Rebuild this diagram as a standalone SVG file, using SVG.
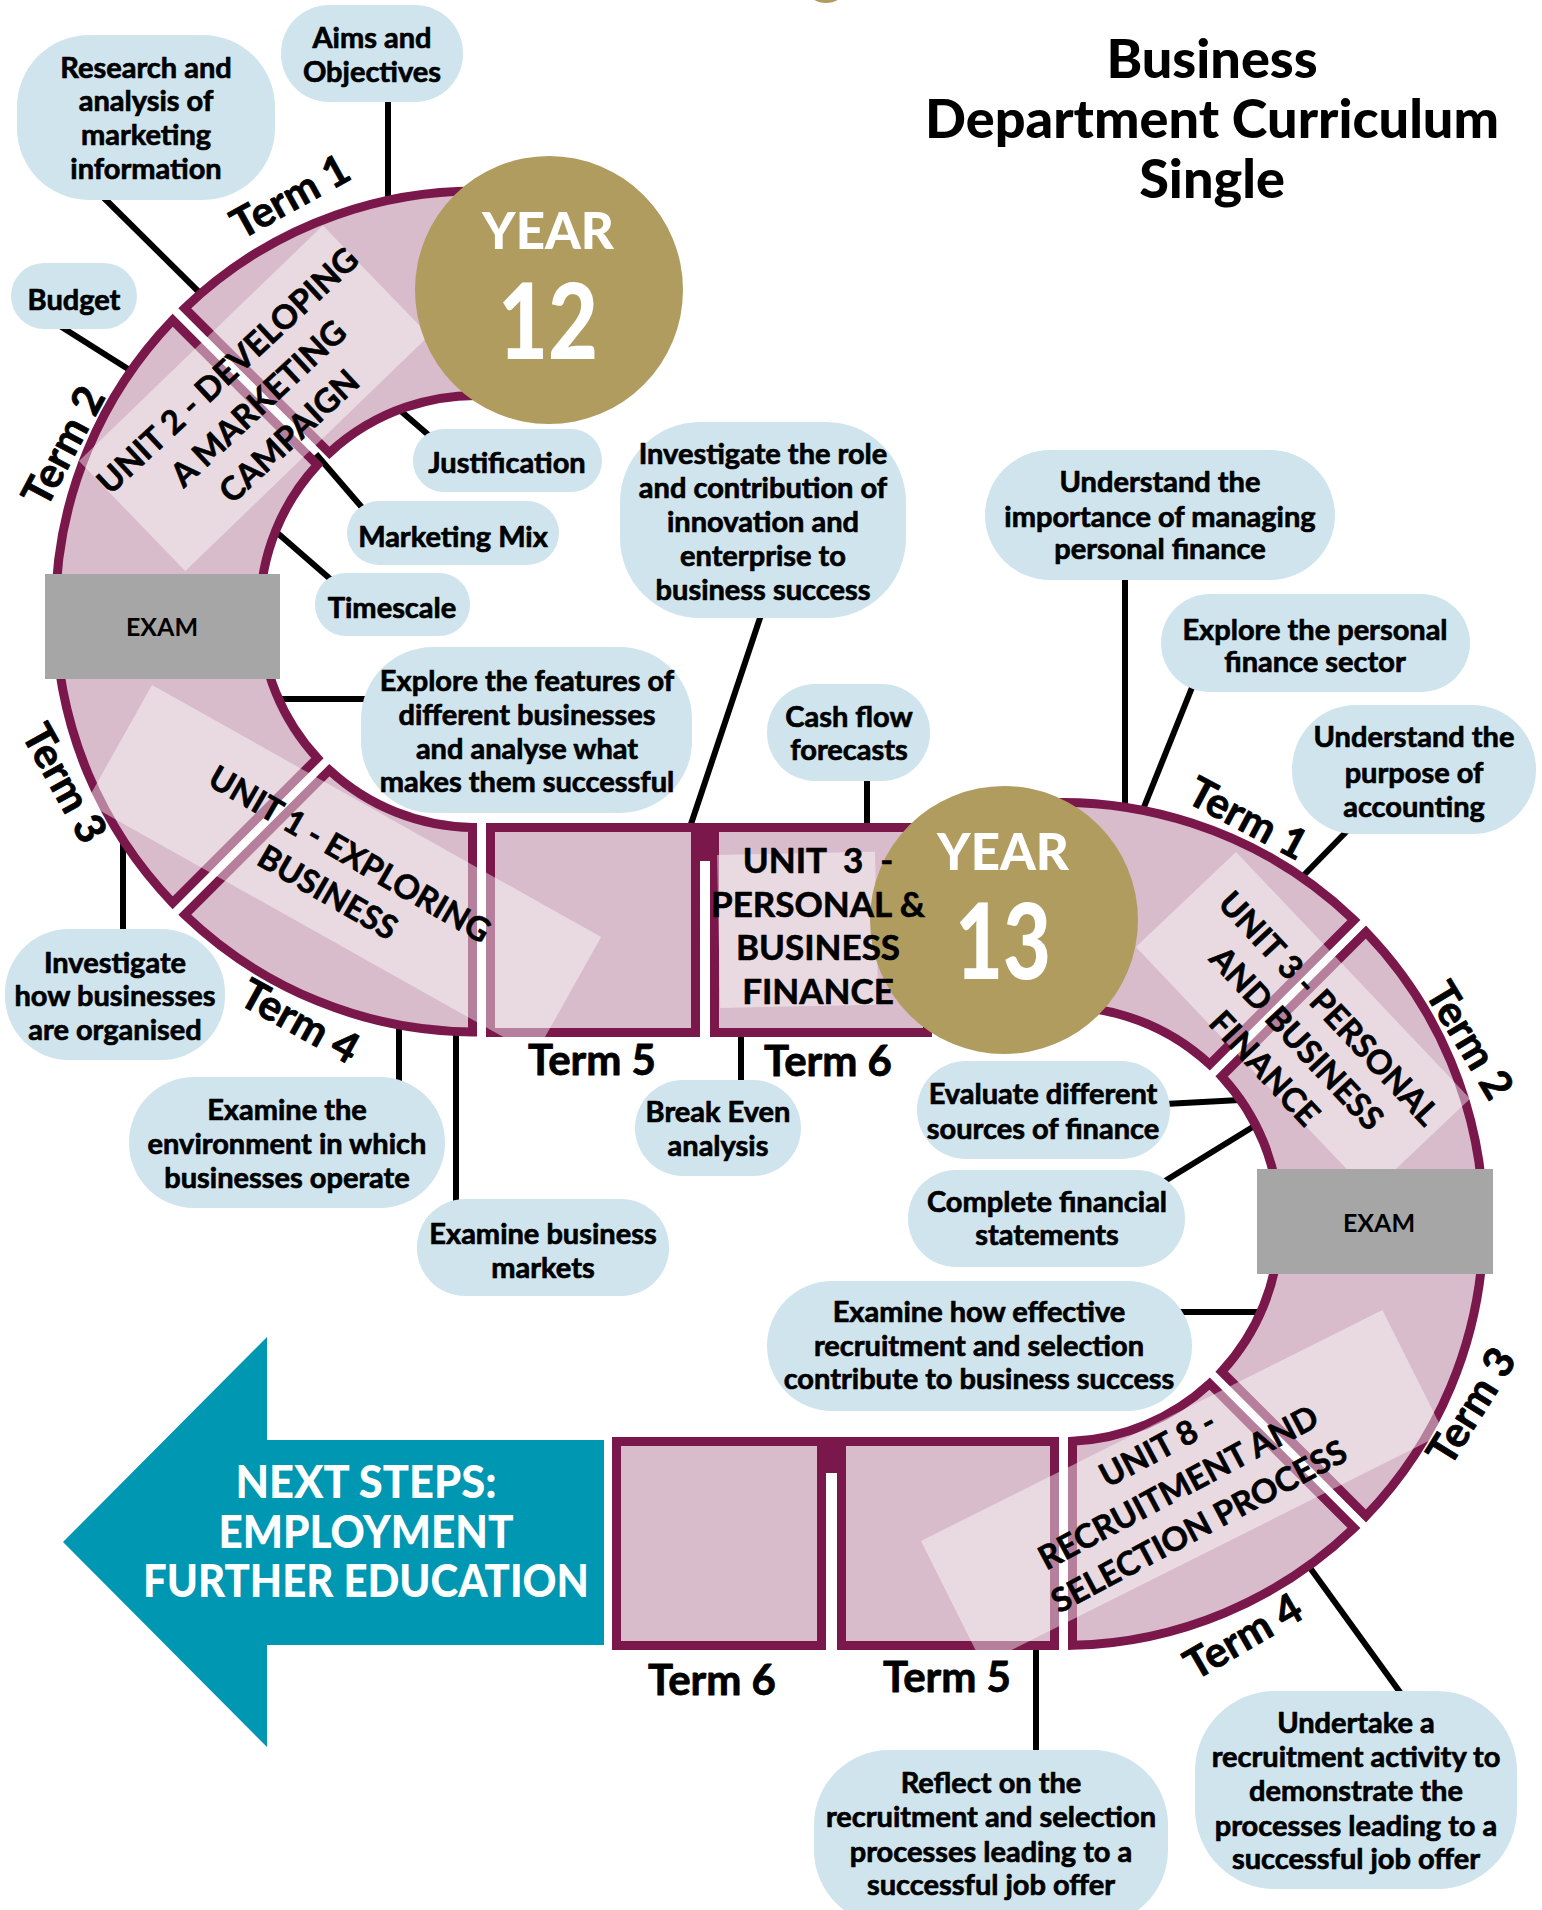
<svg xmlns="http://www.w3.org/2000/svg" width="1542" height="1910" viewBox="0 0 1542 1910">
<style>
.seg{fill:#d8bccb;stroke:#7a184b;stroke-width:9;stroke-linejoin:miter}
.joint{fill:#7a184b}
.ov{fill:#ffffff;fill-opacity:0.45}
.exam{fill:#a6a6a6}
.gold{fill:#b19c5f}
.bub{fill:#cfe4ec}
.con{stroke:#000;stroke-width:6;fill:none}
text{font-family:Lato,'Liberation Sans',sans-serif;font-weight:700;fill:#000;text-anchor:middle}
.bt{font-size:29px;stroke:#000;stroke-width:0.7px;stroke-linejoin:round}
.term{font-size:42px;stroke:#000;stroke-width:0.8px;stroke-linejoin:round}
.unit{font-size:33px;stroke:#000;stroke-width:0.6px;stroke-linejoin:round}
.examt{font-size:25px}
.title{font-size:54px;font-weight:900}
.yr{font-size:51px;font-weight:900;fill:#fff}
.num{font-size:104px;font-weight:900;fill:#fff}
.next{font-size:46px;font-weight:900;fill:#fff}
</style>
<rect width="1542" height="1910" fill="#ffffff"/>
<ellipse cx="826" cy="-8" rx="17" ry="11" class="gold"/>

<g id="title">
<text class="title" x="1212" y="78">Business</text>
<text class="title" x="1212" y="138">Department Curriculum</text>
<text class="title" x="1212" y="198">Single</text>
</g>

<g id="connectors">
<line class="con" x1="388" y1="100" x2="388" y2="200"/>
<line class="con" x1="100" y1="194" x2="206" y2="299"/>
<line class="con" x1="60" y1="326" x2="136" y2="374"/>
<line class="con" x1="395" y1="406" x2="432" y2="438"/>
<line class="con" x1="316" y1="454" x2="365" y2="511"/>
<line class="con" x1="274" y1="530" x2="336" y2="584"/>
<line class="con" x1="280" y1="699" x2="370" y2="699"/>
<line class="con" x1="123" y1="835" x2="123" y2="935"/>
<line class="con" x1="399" y1="1025" x2="399" y2="1085"/>
<line class="con" x1="456" y1="1030" x2="456" y2="1205"/>
<line class="con" x1="762" y1="612" x2="689" y2="830"/>
<line class="con" x1="867" y1="775" x2="867" y2="828"/>
<line class="con" x1="741" y1="1030" x2="741" y2="1085"/>
<line class="con" x1="1125" y1="575" x2="1125" y2="812"/>
<line class="con" x1="1193" y1="685" x2="1142" y2="812"/>
<line class="con" x1="1348" y1="830" x2="1303" y2="876"/>
<line class="con" x1="1165" y1="1104" x2="1240" y2="1100"/>
<line class="con" x1="1160" y1="1184" x2="1256" y2="1125"/>
<line class="con" x1="1180" y1="1312" x2="1262" y2="1312"/>
<line class="con" x1="1036" y1="1645" x2="1036" y2="1755"/>
<line class="con" x1="1308" y1="1565" x2="1402" y2="1695"/>
</g>

<g id="year12-track">
<path class="seg" d="M512.65,192.6 A420.5,420.5 0 0 0 184.74,308.22 L329.39,452.87 A216,216 0 0 1 494.83,396.3 Z"/>
<path class="seg" d="M172.72,320.24 A420.5,420.5 0 0 0 172.72,902.76 L317.37,758.11 A216,216 0 0 1 317.37,464.89 Z"/>
<path class="seg" d="M184.74,914.78 A420.5,420.5 0 0 0 472.5,1032 L472.5,827.5 A216,216 0 0 1 329.39,770.13 Z"/>
<rect class="seg" x="490.5" y="827.5" width="205" height="205"/>
<rect class="joint" x="699" y="823" width="12" height="38"/>
<rect class="seg" x="714.5" y="827.5" width="213" height="205"/>
</g>

<g id="year13-track">
<path class="seg" d="M1003.34,806.6 A421.5,421.5 0 0 1 1353.97,920.01 L1209.66,1064.32 A217.5,217.5 0 0 0 1031.73,1008.62 Z"/>
<path class="seg" d="M1365.99,932.03 A421.5,421.5 0 0 1 1365.99,1515.97 L1221.68,1371.66 A217.5,217.5 0 0 0 1221.68,1076.34 Z"/>
<path class="seg" d="M1353.97,1527.99 A421.5,421.5 0 0 1 1072.5,1645.37 L1072.5,1441.25 A217.5,217.5 0 0 0 1209.66,1383.68 Z"/>
<rect class="seg" x="841.5" y="1441.5" width="213" height="204"/>
<rect class="joint" x="825" y="1437" width="13" height="36"/>
<rect class="seg" x="616.5" y="1441.5" width="205" height="204"/>
</g>

<g id="overlays">
<rect class="ov" width="339" height="153" transform="translate(79,461) rotate(-44)"/>
<rect class="ov" width="515" height="135" transform="translate(152,685) rotate(29.3)"/>
<rect class="ov" x="717" y="855" width="158" height="153" transform="rotate(-1.2 717 855)"/>
<rect class="ov" width="340" height="138" transform="translate(1236,852) rotate(46.5)"/>
<rect class="ov" width="516" height="138" transform="translate(921,1541) rotate(-26.6)"/>
</g>

<g id="exam-y12">
<rect class="exam" x="45" y="574" width="235" height="105"/>
<text class="examt" x="162" y="636">EXAM</text>
</g>
<g id="exam-y13">
<rect class="exam" x="1257" y="1169" width="236" height="105"/>
<text class="examt" x="1379" y="1232">EXAM</text>
</g>

<g id="year12-badge">
<circle class="gold" cx="549" cy="290" r="134"/>
<text class="yr" x="548" y="249">YEAR</text>
<text class="num" x="548" y="359" textLength="100" lengthAdjust="spacingAndGlyphs">12</text>
</g>
<g id="year13-badge">
<circle class="gold" cx="1004" cy="920" r="134"/>
<text class="yr" x="1003" y="870">YEAR</text>
<text class="num" x="1003" y="979" textLength="96" lengthAdjust="spacingAndGlyphs">13</text>
</g>

<g id="unit2">
<g transform="translate(258,403) rotate(-43)">
<text class="unit"><tspan x="0" y="-33">UNIT 2 - DEVELOPING</tspan><tspan x="0" y="12">A MARKETING</tspan><tspan x="0" y="57">CAMPAIGN</tspan></text>
</g>
</g>
<g id="unit1">
<g transform="translate(339,873) rotate(30)">
<text class="unit"><tspan x="0" y="-10">UNIT 1 - EXPLORING</tspan><tspan x="0" y="34">BUSINESS</tspan></text>
</g>
</g>
<g id="unit3-y12">
<text class="unit" style="font-size:35px" xml:space="preserve"><tspan x="818" y="873">UNIT&#160; 3&#160; -</tspan><tspan x="818" y="917">PERSONAL &amp;</tspan><tspan x="818" y="960">BUSINESS</tspan><tspan x="818" y="1004">FINANCE</tspan></text>
</g>
<g id="unit3-y13">
<g transform="translate(1297,1038) rotate(47)">
<text class="unit"><tspan x="0" y="-32">UNIT 3 - PERSONAL</tspan><tspan x="0" y="12">AND BUSINESS</tspan><tspan x="0" y="56">FINANCE</tspan></text>
</g>
</g>
<g id="unit8">
<g transform="translate(1178,1487) rotate(-28)">
<text class="unit"><tspan x="0" y="-32">UNIT 8 -</tspan><tspan x="0" y="12">RECRUITMENT AND</tspan><tspan x="0" y="56">SELECTION PROCESS</tspan></text>
</g>
</g>

<g id="terms">
<text class="term" transform="translate(290,196) rotate(-29)" y="15">Term 1</text>
<text class="term" transform="translate(63,446) rotate(-62)" y="15">Term 2</text>
<text class="term" transform="translate(65,783) rotate(61)" y="15">Term 3</text>
<text class="term" transform="translate(300,1021) rotate(29)" y="15">Term 4</text>
<text class="term" x="592" y="1075">Term 5</text>
<text class="term" x="828" y="1076">Term 6</text>
<text class="term" transform="translate(1248,818) rotate(28)" y="15">Term 1</text>
<text class="term" transform="translate(1470,1040) rotate(59)" y="15">Term 2</text>
<text class="term" transform="translate(1471,1406) rotate(-58)" y="15">Term 3</text>
<text class="term" transform="translate(1243,1636) rotate(-30)" y="15">Term 4</text>
<text class="term" x="947" y="1692">Term 5</text>
<text class="term" x="712" y="1695">Term 6</text>
</g>

<g id="next-steps">
<polygon points="63,1542 267,1337 267,1440 604,1440 604,1645 267,1645 267,1747" fill="#0097b2"/>
<text class="next" x="366" y="1498" textLength="261" lengthAdjust="spacingAndGlyphs">NEXT STEPS:</text>
<text class="next" x="366" y="1548" textLength="295" lengthAdjust="spacingAndGlyphs">EMPLOYMENT</text>
<text class="next" x="366" y="1597" textLength="446" lengthAdjust="spacingAndGlyphs">FURTHER EDUCATION</text>
</g>

<g id="b-aims"><rect class="bub" x="281" y="5" width="182" height="97" rx="48"/>
<text class="bt"><tspan x="372" y="48">Aims and</tspan><tspan x="372" y="82">Objectives</tspan></text></g>
<g id="b-research"><rect class="bub" x="17" y="35" width="258" height="165" rx="72"/>
<text class="bt"><tspan x="146" y="78">Research and</tspan><tspan x="146" y="111">analysis of</tspan><tspan x="146" y="145">marketing</tspan><tspan x="146" y="179">information</tspan></text></g>
<g id="b-budget"><rect class="bub" x="11" y="263" width="126" height="66" rx="33"/>
<text class="bt" x="74" y="310">Budget</text></g>
<g id="b-justification"><rect class="bub" x="413" y="429" width="189" height="63" rx="31"/>
<text class="bt" x="507" y="473">Justification</text></g>
<g id="b-mix"><rect class="bub" x="347" y="501" width="212" height="64" rx="32"/>
<text class="bt" x="453" y="547">Marketing Mix</text></g>
<g id="b-timescale"><rect class="bub" x="315" y="573" width="155" height="63" rx="31"/>
<text class="bt" x="392" y="618">Timescale</text></g>
<g id="b-features"><rect class="bub" x="361" y="647" width="331" height="166" rx="72"/>
<text class="bt"><tspan x="527" y="691">Explore the features of</tspan><tspan x="527" y="725">different businesses</tspan><tspan x="527" y="759">and analyse what</tspan><tspan x="527" y="792">makes them successful</tspan></text></g>
<g id="b-organised"><rect class="bub" x="5" y="929" width="220" height="131" rx="64"/>
<text class="bt"><tspan x="115" y="973">Investigate</tspan><tspan x="115" y="1006">how businesses</tspan><tspan x="115" y="1040">are organised</tspan></text></g>
<g id="b-environment"><rect class="bub" x="129" y="1077" width="316" height="131" rx="65"/>
<text class="bt"><tspan x="287" y="1120">Examine the</tspan><tspan x="287" y="1154">environment in which</tspan><tspan x="287" y="1188">businesses operate</tspan></text></g>
<g id="b-markets"><rect class="bub" x="417" y="1199" width="252" height="97" rx="48"/>
<text class="bt"><tspan x="543" y="1244">Examine business</tspan><tspan x="543" y="1278">markets</tspan></text></g>
<g id="b-innovation"><rect class="bub" x="620" y="422" width="286" height="196" rx="80"/>
<text class="bt"><tspan x="763" y="464">Investigate the role</tspan><tspan x="763" y="498">and contribution of</tspan><tspan x="763" y="532">innovation and</tspan><tspan x="763" y="566">enterprise to</tspan><tspan x="763" y="600">business success</tspan></text></g>
<g id="b-cashflow"><rect class="bub" x="767" y="684" width="163" height="97" rx="48"/>
<text class="bt"><tspan x="849" y="727">Cash flow</tspan><tspan x="849" y="760">forecasts</tspan></text></g>
<g id="b-breakeven"><rect class="bub" x="635" y="1080" width="166" height="96" rx="48"/>
<text class="bt"><tspan x="718" y="1122">Break Even</tspan><tspan x="718" y="1156">analysis</tspan></text></g>
<g id="b-importance"><rect class="bub" x="985" y="450" width="350" height="130" rx="65"/>
<text class="bt"><tspan x="1160" y="492">Understand the</tspan><tspan x="1160" y="527">importance of managing</tspan><tspan x="1160" y="559">personal finance</tspan></text></g>
<g id="b-sector"><rect class="bub" x="1161" y="594" width="309" height="98" rx="49"/>
<text class="bt"><tspan x="1315" y="640">Explore the personal</tspan><tspan x="1315" y="672">finance sector</tspan></text></g>
<g id="b-accounting"><rect class="bub" x="1292" y="705" width="244" height="129" rx="64"/>
<text class="bt"><tspan x="1414" y="747">Understand the</tspan><tspan x="1414" y="783">purpose of</tspan><tspan x="1414" y="817">accounting</tspan></text></g>
<g id="b-evaluate"><rect class="bub" x="917" y="1061" width="253" height="98" rx="49"/>
<text class="bt"><tspan x="1043" y="1104">Evaluate different</tspan><tspan x="1043" y="1139">sources of finance</tspan></text></g>
<g id="b-statements"><rect class="bub" x="908" y="1170" width="277" height="97" rx="48"/>
<text class="bt"><tspan x="1047" y="1212">Complete financial</tspan><tspan x="1047" y="1245">statements</tspan></text></g>
<g id="b-recruitment"><rect class="bub" x="767" y="1281" width="425" height="130" rx="65"/>
<text class="bt"><tspan x="979" y="1322">Examine how effective</tspan><tspan x="979" y="1356">recruitment and selection</tspan><tspan x="979" y="1389">contribute to business success</tspan></text></g>
<g id="b-reflect"><rect class="bub" x="814" y="1750" width="354" height="175" rx="75"/>
<text class="bt"><tspan x="991" y="1793">Reflect on the</tspan><tspan x="991" y="1827">recruitment and selection</tspan><tspan x="991" y="1862">processes leading to a</tspan><tspan x="991" y="1895">successful job offer</tspan></text></g>
<g id="b-undertake"><rect class="bub" x="1195" y="1691" width="322" height="198" rx="80"/>
<text class="bt"><tspan x="1356" y="1733">Undertake a</tspan><tspan x="1356" y="1767">recruitment activity to</tspan><tspan x="1356" y="1801">demonstrate the</tspan><tspan x="1356" y="1836">processes leading to a</tspan><tspan x="1356" y="1869">successful job offer</tspan></text></g>
</svg>
